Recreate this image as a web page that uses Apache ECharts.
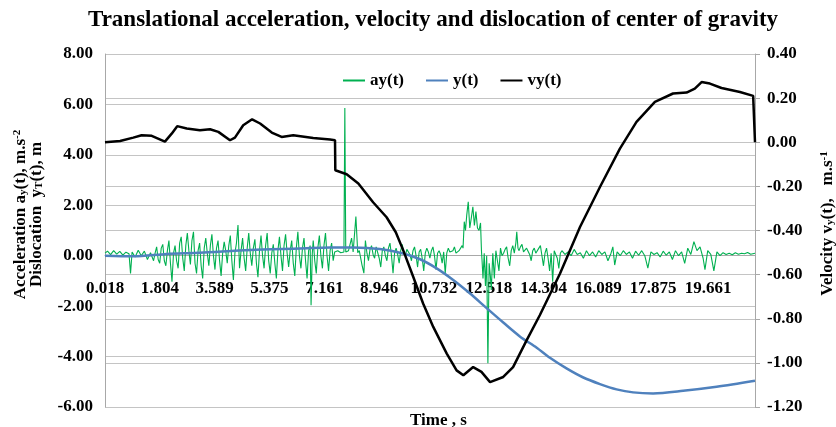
<!DOCTYPE html>
<html>
<head>
<meta charset="utf-8">
<script src="https://cdn.jsdelivr.net/npm/echarts@6/dist/echarts.min.js"></script>
<style>
html,body{margin:0;padding:0;background:#fff;}
#chart{width:836px;height:427px;}
</style>
</head>
<body>
<div id="chart"></div>
<script>
// ---- data ----
const chartTitle = 'Translational acceleration, velocity and dislocation of center of gravity';
const xTitle = 'Time , s';
const seriesNames = ['ay(t)', 'y(t)', 'vy(t)'];
const timeTicks = [0.018, 1.804, 3.589, 5.375, 7.161, 8.946, 10.732, 12.518, 14.304, 16.089, 17.875, 19.661];
const timeMin = 0.018;
const timeMax = 21.19;
const leftMin = -6, leftMax = 8, leftStep = 2;
const rightMin = -1.2, rightMax = 0.4, rightStep = 0.2;

// acceleration ay(t), m.s^-2 : [time, value]
const ayData = [
[0.02,0.10],[0.1,0.18],[0.2,0.04],[0.3,0.20],[0.4,0.06],[0.5,0.17],[0.6,0.02],[0.7,0.14],[0.8,0.08],[0.85,-0.70],
[0.9,0.15],[1.0,-0.05],[1.1,0.22],[1.2,0.0],[1.3,0.18],[1.4,-0.15],[1.5,0.12],[1.6,-0.2],
[1.65,0.1],[1.70,0.35],[1.75,-0.15],[1.80,-0.3],[1.85,0.3],[1.90,0.45],[1.95,-0.2],[2.00,-0.4],[2.05,0.2],[2.10,0.6],
[2.15,-0.3],[2.20,-1.03],[2.25,0.1],[2.30,0.4],[2.35,-0.2],[2.40,-0.5],[2.45,0.5],[2.50,0.75],[2.55,-0.1],[2.60,-0.6],
[2.65,0.4],[2.70,0.9],[2.75,0.2],[2.80,-0.35],[2.85,0.6],[2.90,0.95],[2.95,-0.3],[3.00,-0.7],[3.05,0.2],[3.10,0.5],
[3.15,-0.4],[3.20,-0.9],[3.25,0.3],[3.30,0.7],[3.35,0.1],[3.40,-0.4],[3.45,0.4],[3.50,0.85],[3.55,0.0],[3.60,-0.55],
[3.65,0.3],[3.70,0.6],[3.75,-0.2],[3.80,-0.8],[3.85,0.1],[3.90,0.55],[3.95,0.2],[4.00,-0.3],[4.05,0.4],[4.10,0.8],
[4.15,-0.2],[4.20,-0.96],[4.25,0.1],[4.30,0.5],[4.35,1.22],[4.40,-0.5],[4.45,0.2],[4.50,0.7],[4.55,-0.1],[4.60,-0.6],
[4.65,0.3],[4.70,0.9],[4.75,0.1],[4.80,-0.4],[4.85,0.3],[4.90,0.65],[4.95,-0.3],[5.00,-0.85],[5.05,0.2],[5.10,0.8],
[5.15,0.0],[5.20,-0.5],[5.25,0.4],[5.30,0.9],[5.35,-0.2],[5.40,-0.7],[5.45,0.1],[5.50,0.45],[5.55,-0.3],[5.60,-0.9],
[5.65,0.2],[5.70,0.75],[5.75,0.0],[5.80,-0.6],[5.85,0.4],[5.90,0.85],[5.95,0.1],[6.00,-0.45],[6.05,0.2],[6.10,0.6],
[6.15,-0.3],[6.20,-0.8],[6.25,0.3],[6.30,0.95],[6.35,0.0],[6.40,-0.5],[6.45,0.3],[6.50,0.7],[6.55,-0.2],[6.60,-0.9],
[6.65,0.2],[6.70,0.4],[6.73,-1.96],[6.77,0.1],[6.80,0.6],[6.85,-0.2],[6.90,-0.7],[6.95,0.3],[7.00,0.8],[7.05,0.0],
[7.10,-0.5],[7.15,0.4],[7.20,0.9],[7.25,0.0],[7.30,-0.6],[7.35,0.2],[7.40,0.5],[7.45,-0.2],[7.50,0.15],
[7.6,0.2],[7.7,0.12],[7.8,0.15],[7.83,5.86],[7.86,0.15],[7.95,0.2],[8.05,0.7],[8.1,0.15],[8.19,1.55],[8.25,0.12],
[8.3,0.2],[8.39,-0.37],
[8.45,-0.69],[8.50,0.6],[8.55,0.1],[8.60,-0.2],[8.65,0.25],[8.70,0.4],[8.75,0.05],[8.80,-0.1],[8.85,0.35],[8.90,0.3],
[8.95,-0.1],[9.00,-0.45],[9.05,0.2],[9.10,0.35],[9.15,0.0],[9.20,-0.2],[9.25,0.3],[9.30,0.5],[9.35,0.0],[9.40,-0.69],
[9.45,0.1],[9.50,0.3],[9.55,0.05],[9.60,-0.3],[9.65,0.2],[9.70,0.45],[9.75,0.1],[9.80,0.0],[9.85,0.25],[9.90,0.3],
[9.95,0.05],[10.00,-0.2],[10.05,0.2],[10.10,0.35],[10.15,0.0],[10.20,-0.45],[10.25,0.15],[10.30,0.25],[10.35,-0.1],[10.40,-0.6],
[10.45,0.1],[10.50,0.3],[10.55,0.15],[10.60,-0.1],[10.65,0.2],[10.70,0.35],[10.75,0.0],[10.80,-0.55],[10.85,0.1],[10.90,0.2],
[10.95,0.05],[11.00,-0.3],[11.05,0.15],[11.10,-0.7],[11.15,0.1],[11.20,0.3],[11.25,0.15],[11.30,0.1],[11.35,0.2],[11.40,0.35],
[11.45,0.1],[11.50,0.05],[11.55,0.2],[11.60,0.25],[11.65,0.4],
[11.68,0.3],[11.72,1.35],[11.76,1.0],[11.80,1.6],[11.85,2.14],[11.90,1.1],[11.95,1.5],[12.00,1.94],[12.05,1.2],[12.10,1.75],
[12.15,1.1],[12.20,1.0],[12.25,1.3],[12.28,0.2],[12.30,-0.2],[12.33,-0.9],[12.37,0.1],[12.41,-1.2],[12.45,0.0],[12.49,-4.26],
[12.53,-0.3],[12.57,-0.8],[12.60,-1.36],[12.65,0.1],[12.70,-0.9],[12.75,0.2],[12.80,-0.2],[12.85,-0.6],
[12.90,0.3],[12.95,0.0],[13.00,0.1],[13.05,0.25],[13.10,0.35],[13.15,-0.1],[13.20,-0.4],[13.25,0.2],[13.30,0.4],[13.35,0.1],
[13.40,0.5],[13.43,0.95],[13.47,0.3],[13.50,0.2],[13.55,0.35],[13.60,0.45],[13.65,0.15],[13.70,0.1],[13.75,0.3],[13.80,0.35],
[13.85,0.05],[13.90,-0.2],[13.95,0.2],[14.00,0.3],[14.05,0.1],[14.10,0.05],[14.15,0.3],[14.20,0.4],[14.25,0.0],[14.30,-0.4],
[14.35,0.1],[14.40,0.3],[14.45,-0.1],[14.50,-0.6],[14.55,0.1],[14.60,-1.03],[14.65,0.2],[14.70,0.25],[14.75,-0.1],[14.80,-0.5],
[14.85,0.1],[14.90,0.2],
[15.0,0.05],[15.1,0.15],[15.2,0.0],[15.3,0.25],[15.4,0.05],[15.5,0.12],[15.6,-0.1],
[15.7,0.2],[15.8,0.0],[15.9,0.15],[16.0,-0.05],[16.1,0.2],[16.2,0.05],[16.3,0.15],[16.4,-0.2],[16.5,0.1],[16.56,0.35],
[16.62,-0.37],[16.7,0.15],[16.8,0.0],[16.9,0.2],[17.0,0.05],[17.1,0.15],[17.2,-0.1],[17.3,0.18],[17.4,0.02],[17.5,0.2],
[17.6,0.0],[17.7,-0.49],[17.8,0.15],[17.9,0.05],[18.0,0.12],[18.1,-0.05],[18.2,0.18],[18.3,0.02],[18.4,0.15],[18.5,-0.15],
[18.6,0.2],[18.7,0.0],[18.8,0.15],[18.9,-0.3],[19.0,0.3],[19.1,0.05],[19.2,0.56],[19.3,0.2],[19.4,0.35],[19.5,-0.1],
[19.56,-0.55],[19.65,0.2],[19.75,0.05],[19.85,-0.6],[19.95,0.15],[20.05,0.0],[20.15,0.12],[20.25,0.05],[20.35,0.1],[20.45,0.04],
[20.55,0.12],[20.65,0.06],[20.75,0.1],[20.85,0.08],[20.95,0.13],[21.05,0.06],[21.19,0.1]
];

// dislocation y(t), m : [time, value]
const yData = [
[0.018,0.0],[0.94,-0.02],[2.03,0.07],[3.11,0.12],[4.74,0.23],[6.37,0.29],[7.35,0.33],[8.10,0.33],[8.97,0.27],
[9.73,0.09],[10.28,-0.14],[10.82,-0.50],[11.36,-0.96],[11.90,-1.49],[12.45,-2.08],[12.99,-2.65],[13.53,-3.20],
[14.08,-3.65],[14.51,-4.05],[15.05,-4.47],[15.58,-4.82],[16.14,-5.09],[16.68,-5.30],[17.22,-5.42],[17.87,-5.46],
[18.85,-5.36],[19.94,-5.20],[21.19,-4.96]
];

// velocity vy(t), m.s^-1 : [time, value]
const vyData = [
[0.018,0.0],[0.51,0.006],[0.94,0.021],[1.21,0.032],[1.54,0.029],[1.97,0.003],[2.19,0.039],[2.37,0.073],[2.68,0.062],
[3.11,0.054],[3.44,0.059],[3.71,0.047],[4.09,0.009],[4.25,0.021],[4.52,0.077],[4.81,0.104],[5.07,0.085],[5.45,0.044],
[5.77,0.024],[6.15,0.032],[6.80,0.019],[7.35,0.012],[7.51,0.009],[7.52,-0.127],[7.89,-0.145],[8.27,-0.187],[8.75,-0.272],
[9.19,-0.340],[9.49,-0.408],[9.73,-0.489],[10.06,-0.611],[10.38,-0.731],[10.71,-0.837],[11.15,-0.958],[11.47,-1.034],
[11.69,-1.056],[12.01,-1.019],[12.28,-1.041],[12.56,-1.087],[12.99,-1.064],[13.31,-1.019],[13.75,-0.898],[14.18,-0.784],
[14.84,-0.595],[15.49,-0.384],[16.14,-0.203],[16.79,-0.029],[17.33,0.092],[17.93,0.183],[18.52,0.221],[18.96,0.225],
[19.23,0.243],[19.45,0.273],[19.72,0.266],[20.10,0.246],[20.70,0.228],[21.13,0.210],[21.19,0.205],[21.19,0.0]
];

// ---- chart ----
const FONT = '"Liberation Serif","Times New Roman",serif';
const gridColor = '#c4c4c4';
const axisColor = '#a8a8a8';
const gridTop = 54, gridBottom = 20, H = 427;
const chart = echarts.init(document.getElementById('chart'), null, {renderer: 'canvas'});
const subStyle = {fontFamily: FONT, fontWeight: 'bold', fontSize: 11, lineHeight: 11, verticalAlign: 'bottom', color: '#000'};
const supStyle = {fontFamily: FONT, fontWeight: 'bold', fontSize: 11, lineHeight: 11, verticalAlign: 'top', color: '#000'};
// x axis crosses the left axis at zero
const plotH = H - gridTop - gridBottom;
const zeroOffset = -plotH * (0 - leftMin) / (leftMax - leftMin);

chart.setOption({
  animation: false,
  backgroundColor: '#fff',
  title: [
    {text: chartTitle, left: 83, top: 4,
     textStyle: {fontFamily: FONT, fontWeight: 'bold', fontSize: 23, color: '#000'}},
    {text: xTitle, left: 405, top: 407,
     textStyle: {fontFamily: FONT, fontWeight: 'bold', fontSize: 17, color: '#000'}}
  ],
  legend: {
    data: seriesNames, left: 338, top: 67, icon: 'rect', itemWidth: 22, itemHeight: 2, itemGap: 22,
    textStyle: {fontFamily: FONT, fontWeight: 'bold', fontSize: 17, color: '#000'}
  },
  grid: {left: 105, right: 81, top: gridTop, bottom: gridBottom, containLabel: false, outerBoundsMode: 'none'},
  xAxis: {
    type: 'value', min: timeMin, max: timeMax, offset: zeroOffset,
    splitLine: {show: false},
    axisLine: {show: true, onZero: false, lineStyle: {color: axisColor, width: 1}},
    axisTick: {show: false},
    axisLabel: {customValues: timeTicks, formatter: v => Number(v).toFixed(3), margin: 24,
      fontFamily: FONT, fontWeight: 'bold', fontSize: 17, color: '#000'}
  },
  yAxis: [
    {type: 'value', min: leftMin, max: leftMax, interval: leftStep, position: 'left',
     name: 'Acceleration a{sub|y}(t), m.s{sup|-2}\nDislocation  y{sub|T}(t), m',
     nameLocation: 'middle', nameRotate: 90, nameGap: 60,
     nameTextStyle: {fontFamily: FONT, fontWeight: 'bold', fontSize: 17, lineHeight: 16.5, color: '#000',
       padding: [0, 0, 0, 32], rich: {sub: subStyle, sup: supStyle}},
     axisLine: {show: true, lineStyle: {color: axisColor}},
     axisTick: {show: false},
     splitLine: {show: true, lineStyle: {color: gridColor, width: 1}},
     axisLabel: {formatter: v => v.toFixed(2), margin: 12, fontFamily: FONT, fontWeight: 'bold', fontSize: 17, color: '#000'}},
    {type: 'value', min: rightMin, max: rightMax, interval: rightStep, position: 'right',
     name: 'Velocity v{sub|y}(t),   m.s{sup|-1}',
     nameLocation: 'middle', nameRotate: 90, nameGap: 64,
     nameTextStyle: {fontFamily: FONT, fontWeight: 'bold', fontSize: 17, lineHeight: 17, color: '#000',
       padding: [0, 0, 0, 14], rich: {sub: subStyle, sup: supStyle}},
     axisLine: {show: true, lineStyle: {color: axisColor}},
     axisTick: {show: true, length: 5, lineStyle: {color: axisColor}},
     splitLine: {show: true, lineStyle: {color: gridColor, width: 1}},
     axisLabel: {formatter: v => v.toFixed(2), margin: 12, fontFamily: FONT, fontWeight: 'bold', fontSize: 17, color: '#000'}}
  ],
  series: [
    {name: seriesNames[0], type: 'line', xAxisIndex: 0, yAxisIndex: 0, data: ayData,
     showSymbol: false, symbol: 'none', lineStyle: {color: '#00b050', width: 1.1}, itemStyle: {color: '#00b050'}, z: 2},
    {name: seriesNames[1], type: 'line', xAxisIndex: 0, yAxisIndex: 0, data: yData, smooth: 0.3,
     showSymbol: false, symbol: 'none', lineStyle: {color: '#4f81bd', width: 2.5}, itemStyle: {color: '#4f81bd'}, z: 3},
    {name: seriesNames[2], type: 'line', xAxisIndex: 0, yAxisIndex: 1, data: vyData,
     showSymbol: false, symbol: 'none', lineStyle: {color: '#000000', width: 2.5}, itemStyle: {color: '#000000'}, z: 4}
  ]
});
</script>
</body>
</html>
